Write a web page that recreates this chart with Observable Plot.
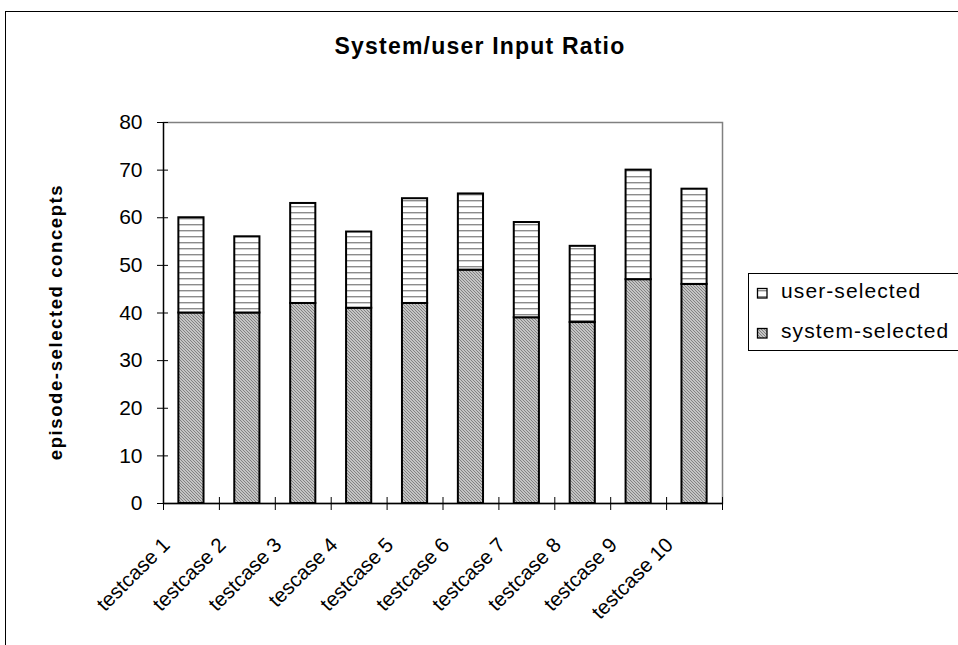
<!DOCTYPE html>
<html><head><meta charset="utf-8">
<script src="https://cdn.jsdelivr.net/npm/d3@7"></script>
<script src="https://cdn.jsdelivr.net/npm/@observablehq/plot@0.6"></script>
<style>body{margin:0;background:#fff} svg{display:block}</style>
</head><body><div id="chart"></div>
<script>
const categories = ["testcase 1","testcase 2","testcase 3","tescase 4","testcase 5","testcase 6","testcase 7","testcase 8","testcase 9","testcase 10"];
const systemSelected = [40,40,42,41,42,49,39,38,47,46];
const userSelected = [20,16,21,16,22,16,20,16,23,20];
const yTicks = [0,10,20,30,40,50,60,70,80];
const seriesNames = ["user-selected","system-selected"];
const titleText = "System/user Input Ratio";
const yLabel = "episode-selected concepts";

const rows = categories.map((c,i)=>({testcase:c, system: systemSelected[i], user: userSelected[i], total: systemSelected[i]+userSelected[i]}));

const W=958,H=645, ml=163, mr=236, mt=122, mb=142;
const step=(W-ml-mr)/categories.length;
const font = "'Liberation Sans', Arial, sans-serif";

const chart = Plot.plot({
  width: W, height: H, marginLeft: ml, marginRight: mr, marginTop: mt, marginBottom: mb,
  style: {fontFamily: font, fontSize: "21px", color: "#000", background: "#fff", overflow: "hidden"},
  x: {domain: categories, paddingInner: 0.55, paddingOuter: 0.275, round: false, axis: null},
  y: {domain: [0,80], axis: null},
  marks: [
    Plot.frame({stroke: "#808080", strokeWidth: 1.5}),
    Plot.barY(rows, {x:"testcase", y1: 0, y2: "system", fill: "url(#sysPat)", stroke: "#000", strokeWidth: 2}),
    Plot.barY(rows, {x:"testcase", y1: "system", y2: "total", fill: "url(#userPat)", stroke:"#000", strokeWidth: 2}),
    Plot.ruleY([0], {stroke: "#000", strokeWidth: 1.3}),
    Plot.ruleX([categories[0]], {y1: 0, y2: 80, dx: -step/2, stroke:"#000", strokeWidth:1.3}),
    Plot.axisY({ticks: yTicks, tickSize: 11, dx: 5, tickPadding: 15, fontSize: 21, label: null, stroke: "#000", strokeOpacity: 1}),
    Plot.axisX({ticks: categories, tickSize: 13, dx: -step/2, dy: -6, tickFormat: () => "", label: null, strokeOpacity: 1}),
    Plot.axisX({ticks: [categories[categories.length-1]], tickSize: 13, dx: step/2, dy: -6, tickFormat: () => "", label: null, strokeOpacity: 1}),
    Plot.text(categories, {x: d=>d, y: 0, text: d=>d, rotate: -45, textAnchor: "end", dx: -25, dy: 38, fontSize: 20.5, letterSpacing: 0.4})
  ]
});

const svg = d3.select(chart);
svg.insert("defs", ":first-child").html(`
<pattern id="userPat" patternUnits="userSpaceOnUse" width="6" height="6"><rect width="6" height="6" fill="#fff"/><rect y="2" width="6" height="1.4" fill="#8c8c8c"/></pattern>
<pattern id="sysPat" patternUnits="userSpaceOnUse" width="3" height="3"><rect width="3" height="3" fill="#c4c4c4"/><rect x="0" y="0" width="1" height="1" fill="#828282"/><rect x="1" y="1" width="1" height="1" fill="#828282"/><rect x="2" y="2" width="1" height="1" fill="#828282"/></pattern>
`);

// outer border
svg.append("rect").attr("x",5.5).attr("y",11.5).attr("width",1000).attr("height",700)
  .attr("fill","none").attr("stroke","#000").attr("stroke-width",1);

// title
svg.append("text").attr("x",480).attr("y",54).attr("text-anchor","middle")
  .attr("font-family",font).attr("font-weight","bold").attr("font-size",23)
  .attr("letter-spacing",1.2).attr("fill","#000").text(titleText);

// y label
svg.append("text").attr("transform","translate(55,322) rotate(-90)")
  .attr("text-anchor","middle").attr("dominant-baseline","central")
  .attr("font-family",font).attr("font-weight","bold").attr("font-size",18.5)
  .attr("letter-spacing",1.6).attr("fill","#000").text(yLabel);

// legend
const lg = svg.append("g");
lg.append("rect").attr("x",748.5).attr("y",273.5).attr("width",300).attr("height",77)
  .attr("fill","#fff").attr("stroke","#000").attr("stroke-width",1);
const fills = ["url(#userPat)","url(#sysPat)"];
seriesNames.forEach((name,i)=>{
  const by = 298 + i*40;
  lg.append("rect").attr("x",757.5).attr("y",by-9.5).attr("width",9.5).attr("height",9.5)
    .attr("fill",fills[i]).attr("stroke","#000").attr("stroke-width",1.3);
  lg.append("text").attr("x",781).attr("y",by).attr("text-anchor","start")
    .attr("font-family",font).attr("font-size",21)
    .attr("letter-spacing",1.1).attr("fill","#000").text(name);
});

document.getElementById("chart").appendChild(chart);
</script>
</body></html>
